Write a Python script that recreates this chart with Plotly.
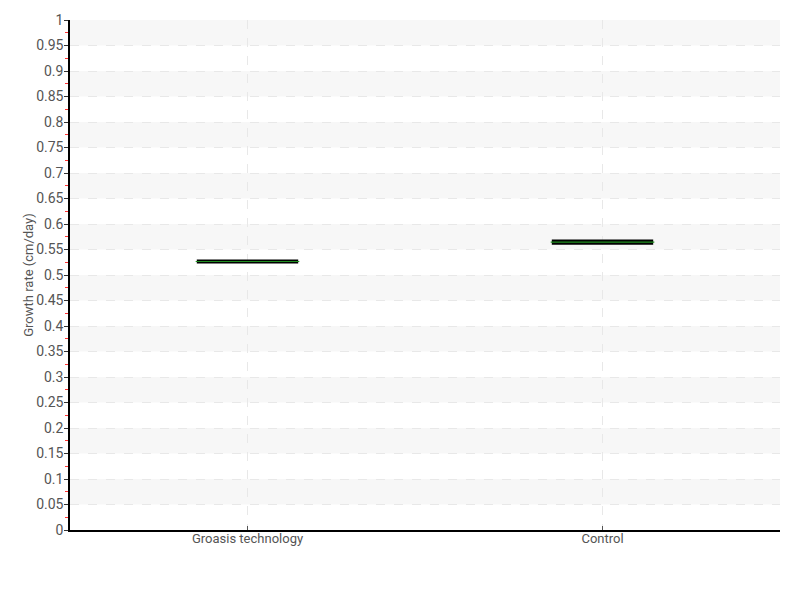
import plotly.graph_objects as go

categories = ["Groasis technology", "Control"]
q1_values = [0.5245, 0.5615]
median_values = [0.5265, 0.5645]
q3_values = [0.5285, 0.5675]
y_title = "Growth rate (cm/day)"

font_family = "Roboto, 'DejaVu Sans Condensed', sans-serif"

fig = go.Figure()
fig.add_trace(go.Box(
    x=categories,
    q1=q1_values,
    median=median_values,
    q3=q3_values,
    lowerfence=q1_values,
    upperfence=q3_values,
    width=0.28,
    fillcolor="black",
    line=dict(color="black", width=2),
    marker=dict(color="black"),
    boxpoints=False,
    showlegend=False,
    hoverinfo="y",
))

# median lines in green, drawn on top of each box
for i, (c, m) in enumerate(zip(categories, median_values)):
    fig.add_trace(go.Scatter(
        x=[i - 0.146, i + 0.146], y=[m, m], mode="lines",
        line=dict(color="#1f8f1f", width=1.2),
        xaxis="x2", showlegend=False, hoverinfo="skip",
    ))

# alternating background bands
shapes = []
k = 0.05
while k < 1.0:
    shapes.append(dict(type="rect", xref="paper", yref="y", x0=0, x1=1,
                       y0=k, y1=k + 0.05, fillcolor="#f7f7f7",
                       line=dict(width=0), layer="below"))
    k += 0.1

fig.update_layout(
    width=800, height=600,
    margin=dict(l=62, r=28, t=12, b=78),
    paper_bgcolor="white", plot_bgcolor="white",
    font=dict(family=font_family, size=14, color="#555"),
    shapes=shapes,
    xaxis=dict(
        type="category", range=[-0.5, 1.5], automargin=False,
        showgrid=True, gridcolor="#e8e8e8", griddash="dash", gridwidth=1,
        showline=True, linecolor="black", linewidth=1.5,
        ticks="inside", ticklen=4, tickcolor="#555",
        tickfont=dict(size=13, color="#555"), ticklabelstandoff=-4,
        zeroline=False,
    ),
    xaxis2=dict(range=[-0.5, 1.5], overlaying="x", visible=False),
    yaxis=dict(
        range=[0, 1], dtick=0.05, tick0=0, automargin=False,
        showgrid=True, gridcolor="#e8e8e8", griddash="dash", gridwidth=1,
        showline=True, linecolor="black", linewidth=1.5,
        ticks="outside", ticklen=4, tickcolor="#333",
        tickfont=dict(size=14, color="#555"), ticklabelstandoff=-2,
        minor=dict(dtick=0.025, ticks="outside", ticklen=3, tickcolor="#ff3333", showgrid=False),
        zeroline=False,
        title=dict(text=y_title, font=dict(size=13, color="#555"), standoff=0),
    ),
)

fig.write_html("out.html")
